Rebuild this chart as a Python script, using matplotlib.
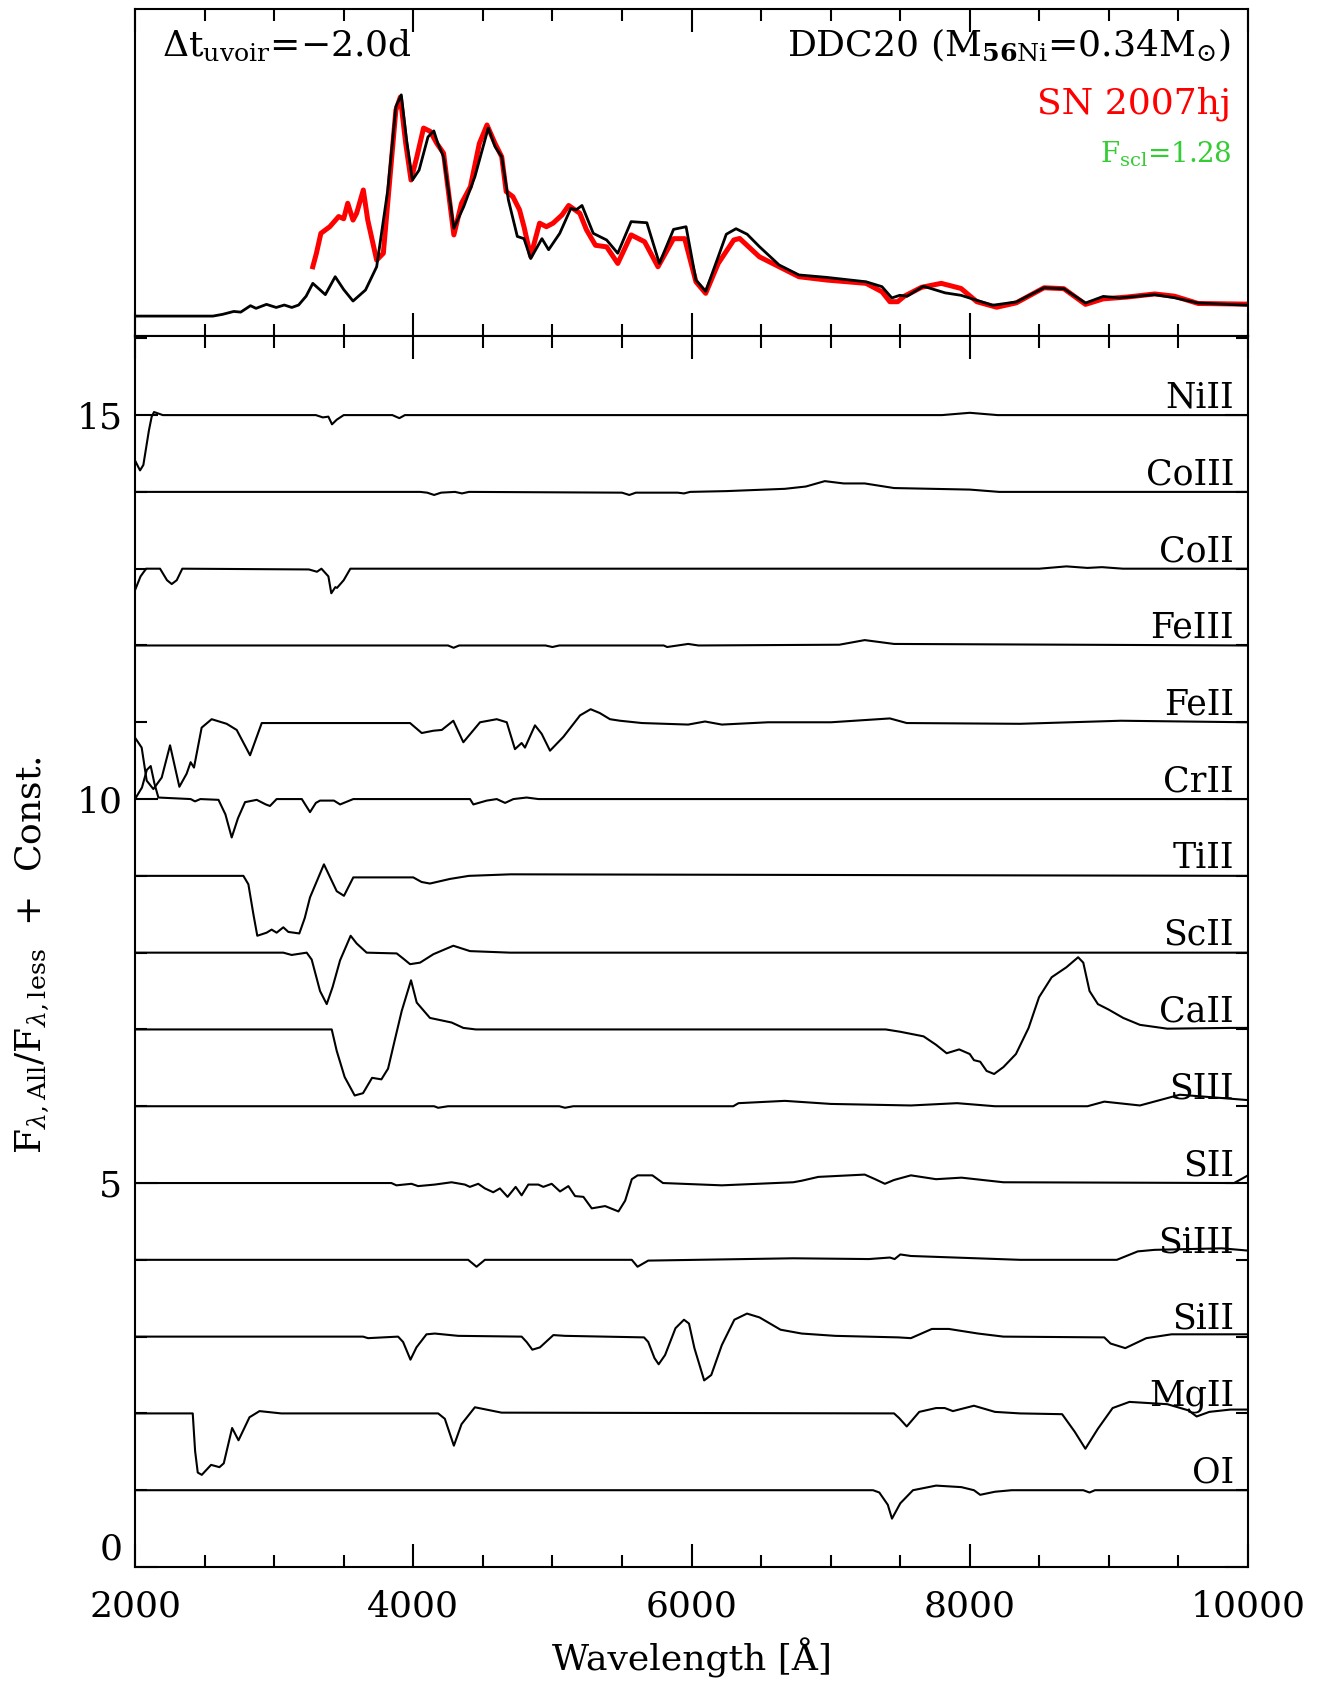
import matplotlib
matplotlib.use("Agg")
import matplotlib.pyplot as plt
from matplotlib.ticker import MultipleLocator

plt.rcParams['font.family'] = ['DejaVu Serif']
plt.rcParams['mathtext.fontset'] = 'dejavuserif'

# ---------------- top panel data ----------------
model_wl = [2000, 2560, 2630, 2710, 2760, 2830, 2870, 2945, 3015, 3073, 3127, 3176, 3230, 3278, 3368,
            3439, 3500, 3567, 3657, 3737, 3817, 3875, 3914, 3952, 3994, 4042, 4106, 4148, 4177, 4218,
            4292, 4363, 4443, 4539, 4588, 4636, 4684, 4748, 4796, 4844, 4925, 4973, 5053, 5133, 5170,
            5213, 5294, 5390, 5470, 5566, 5679, 5769, 5871, 5961, 6032, 6102, 6192, 6250, 6320, 6400,
            6488, 6630, 6772, 6971, 7255, 7369, 7440, 7497, 7550, 7667, 7823, 7937, 8164, 8335, 8534,
            8676, 8832, 8960, 9073, 9329, 9471, 9642, 10000]
model_flux = [0, 0, .008, .021, .018, .047, .035, .053, .039, .05, .039, .05, .09, .148, .097,
              .178, .12, .068, .118, .223, .57, .947, 1.0, .796, .615, .66, .81, .837, .78, .72,
              .397, .495, .63, .85, .766, .72, .525, .36, .35, .26, .35, .30, .374, .487, .48,
              .50, .374, .344, .284, .427, .422, .238, .392, .404, .163, .112, .268, .37, .395, .37,
              .314, .231, .186, .175, .155, .133, .082, .094, .09, .135, .105, .094, .049, .064, .128,
              .124, .059, .089, .082, .097, .083, .059, .049]

obs_wl = [3278, 3304, 3336, 3400, 3464, 3500, 3529, 3567, 3593, 3641, 3673, 3737, 3785, 3833, 3875,
          3907, 3946, 3984, 4026, 4074, 4122, 4170, 4218, 4292, 4347, 4411, 4475, 4530, 4588, 4636,
          4668, 4716, 4764, 4796, 4844, 4908, 4957, 5005, 5069, 5117, 5197, 5245, 5310, 5390, 5470,
          5566, 5663, 5759, 5871, 5951, 6032, 6102, 6192, 6304, 6346, 6488, 6630, 6772, 6971, 7255,
          7369, 7426, 7482, 7530, 7653, 7795, 7937, 8051, 8193, 8335, 8534, 8676, 8832, 8960, 9130,
          9329, 9471, 9642, 10000]
obs_flux = [.223, .284, .374, .404, .45, .44, .51, .434, .465, .57, .434, .253, .284, .63, .93,
            .99, .78, .615, .72, .85, .835, .78, .736, .367, .51, .585, .78, .864, .78, .72,
            .563, .54, .48, .404, .27, .42, .404, .42, .457, .50, .465, .39, .32, .313, .238,
            .367, .336, .223, .35, .35, .155, .103, .238, .344, .351, .268, .223, .178, .163, .148,
            .11, .065, .065, .09, .13, .148, .125, .065, .04, .06, .128, .124, .053, .078, .086,
            .1, .09, .057, .054]

# ---------------- lower panel data: F_all/F_less ratios ----------------
ions = ['NiII', 'CoIII', 'CoII', 'FeIII', 'FeII', 'CrII', 'TiII', 'ScII', 'CaII',
        'SIII', 'SII', 'SiIII', 'SiII', 'MgII', 'OI']
consts = [14, 13, 12, 11, 10, 9, 8, 7, 6, 5, 4, 3, 2, 1, 0]

NiII_wl = [2000, 2036, 2060, 2100, 2120, 2137, 2200, 3300, 3350, 3390, 3416, 3450, 3500, 3850, 3900,
           3940, 7800, 8000, 8200, 10000]
NiII_r = [0.41, 0.28, 0.35, 0.80, 0.98, 1.04, 1.0, 1.0, 0.97, 0.98, 0.88, 0.94, 1.0, 1.0, 0.96,
          1.0, 1.0, 1.03, 1.0, 1.0]

CoIII_wl = [2000, 4050, 4100, 4150, 4200, 4300, 4350, 4400, 5500, 5553, 5600, 5900, 5946, 5990,
            6248, 6671, 6822, 6958, 7094, 7245, 7456, 8000, 8211, 10000]
CoIII_r = [1, 1, .99, .96, .99, 1.0, .98, 1.0, .99, .96, .99, .99, .98, 1.0,
           1.01, 1.04, 1.07, 1.14, 1.11, 1.11, 1.05, 1.03, 1.0, 1.0]

CoII_wl = [2000, 2040, 2080, 2180, 2230, 2264, 2300, 2340, 3250, 3308, 3340, 3390, 3411, 3440,
           3452, 3500, 3548, 8500, 8695, 8846, 8950, 9100, 10000]
CoII_r = [.72, .9, 1.0, 1.0, .85, .8, .85, 1.0, .99, .96, 1.0, .9, .68, .76,
          .75, .85, 1.0, 1.0, 1.03, 1.01, 1.02, 1.0, 1.0]

FeIII_wl = [2000, 4250, 4290, 4330, 4950, 5000, 5050, 5800, 5825, 5976, 6050, 7063, 7245, 7456, 10000]
FeIII_r = [1, 1, .97, 1, 1, .98, 1, 1, .98, 1.02, 1, 1.01, 1.07, 1.02, 1]

FeII_wl = [2000, 2048, 2084, 2132, 2192, 2252, 2319, 2371, 2400, 2424, 2479, 2551, 2659, 2731,
           2827, 2911, 3977, 4061, 4145, 4205, 4288, 4360, 4480, 4600, 4672, 4731, 4779, 4803,
           4875, 4923, 4983, 5079, 5199, 5275, 5341, 5414, 5486, 5644, 5976, 6097, 6218, 6550,
           7003, 7426, 7547, 8362, 9087, 10000]
FeII_r = [.80, .67, .24, .13, .28, .70, .16, .33, .48, .41, .93, 1.04, .98, .90,
          .57, .99, .99, .86, .89, .90, 1.02, .74, 1.0, 1.04, 1.0, .65, .73, .67,
          .96, .85, .63, .81, 1.09, 1.17, 1.12, 1.04, 1.02, .99, .97, 1.01, .97, 1.0,
          1.0, 1.05, .99, .98, 1.02, 1.0]

CrII_wl = [2000, 2050, 2085, 2113, 2140, 2168, 2400, 2431, 2470, 2600, 2650, 2695, 2740, 2791,
           2875, 2940, 2970, 3018, 3199, 3258, 3300, 3330, 3430, 3474, 3569, 4408, 4432, 4528,
           4600, 4660, 4720, 4815, 4900, 10000]
CrII_r = [1.0, 1.15, 1.38, 1.43, 1.2, 1.02, 1.0, .97, 1.0, .99, .8, .5, .75, .96,
          .99, .93, .91, 1.0, 1.0, .83, .95, .98, .98, .93, 1.0, 1.0, .93, .98,
          1.0, .95, 1.0, 1.02, 1.0, 1.0]

TiII_wl = [2000, 2779, 2815, 2851, 2879, 2946, 2982, 3018, 3066, 3102, 3181, 3220, 3258, 3358,
           3450, 3502, 3569, 4000, 4060, 4120, 4264, 4400, 4700, 10000]
TiII_r = [1, 1, .89, .5, .22, .26, .30, .26, .33, .27, .25, .45, .72, 1.15,
          .80, .74, .98, .98, .92, .90, .96, 1.0, 1.02, 1.0]

ScII_wl = [2000, 3066, 3126, 3234, 3270, 3330, 3378, 3420, 3474, 3550, 3593, 3665, 3881, 3930,
           3977, 4049, 4145, 4288, 4408, 4696, 10000]
ScII_r = [1, 1, .97, 1, .91, .5, .33, .55, .9, 1.22, 1.12, 1.0, .99, .92,
          .85, .87, .98, 1.09, 1.02, 1.0, 1.0]

CaII_wl = [2000, 3414, 3450, 3507, 3579, 3639, 3704, 3771, 3819, 3867, 3917, 3984, 4025, 4120,
           4276, 4360, 4450, 7396, 7500, 7668, 7758, 7834, 7924, 8000, 8030, 8075, 8121, 8175,
           8242, 8332, 8423, 8498, 8589, 8695, 8779, 8816, 8861, 8921, 8997, 9103, 9223, 9420,
           9873, 10000]
CaII_r = [1, 1, .72, .38, .14, .17, .37, .35, .49, .86, 1.24, 1.64, 1.35, 1.15,
          1.09, 1.02, 1.0, 1.0, .97, .91, .80, .69, .74, .68, .6, .58, .46, .42,
          .51, .68, 1.02, 1.42, 1.68, 1.81, 1.94, 1.87, 1.5, 1.33, 1.26, 1.15, 1.06, 1.01,
          1.02, 1.02]

SIII_wl = [2000, 4150, 4179, 4250, 5050, 5091, 5150, 6300, 6338, 6671, 7003, 7577, 7909, 8181,
           8846, 8967, 9223, 9510, 10000]
SIII_r = [1, 1, .98, 1, 1, .98, 1, 1, 1.04, 1.07, 1.03, 1.01, 1.04, 1.0,
          1.0, 1.06, 1.01, 1.15, 1.08]

SII_wl = [2000, 3843, 3879, 3987, 4035, 4155, 4275, 4371, 4407, 4467, 4515, 4575, 4623, 4678,
          4736, 4779, 4827, 4899, 4935, 4995, 5055, 5115, 5163, 5223, 5283, 5379, 5475, 5523,
          5571, 5613, 5719, 5795, 6218, 6731, 6792, 6912, 7245, 7320, 7390, 7456, 7577, 7758,
          7940, 8242, 9900, 10000]
SII_r = [1, 1, .97, .99, .96, .98, 1.01, .98, .95, .99, .93, .88, .93, .82,
         .95, .84, .98, .98, .95, .99, .89, .96, .83, .82, .67, .70, .63, .77,
         1.05, 1.1, 1.1, 1.0, .97, 1.01, 1.03, 1.08, 1.11, 1.05, .99, 1.04, 1.1, 1.05,
         1.07, 1.01, 1.0, 1.1]

SiIII_wl = [2000, 4395, 4455, 4515, 5571, 5612, 5689, 6731, 7275, 7426, 7460, 7501, 7577, 8362,
            9057, 9208, 9329, 9812, 10000]
SiIII_r = [1, 1, .91, 1, 1, .91, .99, 1.02, 1.01, 1.03, 1.01, 1.07, 1.05, 1.0,
           1.0, 1.11, 1.13, 1.15, 1.12]

SiII_wl = [2000, 3639, 3675, 3891, 3927, 3980, 4023, 4095, 4155, 4323, 4779, 4815, 4856, 4911,
           5007, 5091, 5659, 5689, 5734, 5764, 5810, 5885, 5946, 5982, 6021, 6091, 6142, 6218,
           6308, 6399, 6489, 6640, 6792, 7033, 7486, 7577, 7728, 7849, 8060, 8242, 8967, 9012,
           9118, 9269, 9450, 10000]
SiII_r = [1, 1, .98, 1.0, .93, .7, .86, 1.03, 1.04, 1.01, 1.0, .93, .83, .86,
          1.02, 1.01, .99, .93, .72, .64, .76, 1.11, 1.22, 1.17, .85, .43, .5, .89,
          1.22, 1.3, 1.25, 1.09, 1.04, 1.01, .99, .98, 1.1, 1.1, 1.04, 1.0, .99, .91,
          .85, .98, 1.03, 1.03]

MgII_wl = [2000, 2415, 2432, 2451, 2480, 2547, 2607, 2638, 2698, 2744, 2823, 2895, 3051, 4179,
           4227, 4292, 4347, 4443, 4635, 7456, 7492, 7547, 7637, 7758, 7820, 7879, 8030, 8181,
           8362, 8664, 8755, 8831, 8921, 9027, 9148, 9420, 9571, 9631, 9722, 9873, 10000]
MgII_r = [1, 1, .51, .23, .2, .33, .30, .35, .81, .65, .95, 1.03, 1.0, 1.0,
          .93, .58, .86, 1.08, 1.01, 1.0, .94, .83, 1.02, 1.07, 1.07, 1.03, 1.10, 1.02,
          1.0, .99, .76, .54, .80, 1.07, 1.15, 1.12, 1.04, .96, 1.02, 1.05, 1.05]

OI_wl = [2000, 7305, 7350, 7411, 7441, 7501, 7592, 7758, 7940, 8030, 8075, 8181, 8302, 8816,
         8861, 8900, 10000]
OI_r = [1, 1, .97, .81, .63, .83, 1.0, 1.06, 1.04, 1.0, .94, .98, 1.0, 1.0,
        .97, 1.0, 1.0]

ion_data = {
    'NiII': (NiII_wl, NiII_r), 'CoIII': (CoIII_wl, CoIII_r), 'CoII': (CoII_wl, CoII_r),
    'FeIII': (FeIII_wl, FeIII_r), 'FeII': (FeII_wl, FeII_r), 'CrII': (CrII_wl, CrII_r),
    'TiII': (TiII_wl, TiII_r), 'ScII': (ScII_wl, ScII_r), 'CaII': (CaII_wl, CaII_r),
    'SIII': (SIII_wl, SIII_r), 'SII': (SII_wl, SII_r), 'SiIII': (SiIII_wl, SiIII_r),
    'SiII': (SiII_wl, SiII_r), 'MgII': (MgII_wl, MgII_r), 'OI': (OI_wl, OI_r),
}

x_ticks = [2000, 4000, 6000, 8000, 10000]

# ---------------- figure ----------------
W, H = 1321, 1682
fig = plt.figure(figsize=(W / 100, H / 100), dpi=100)
left, right = 135, 1248
ax_top = fig.add_axes([left / W, 1 - 336 / H, (right - left) / W, (336 - 8.6) / H])
ax_bot = fig.add_axes([left / W, 1 - 1567 / H, (right - left) / W, (1567 - 336) / H])

lw_frame = 1.5
for ax in (ax_top, ax_bot):
    for s in ax.spines.values():
        s.set_linewidth(lw_frame)
    ax.set_xlim(2000, 10000)
    ax.xaxis.set_major_locator(MultipleLocator(2000))
    ax.xaxis.set_minor_locator(MultipleLocator(500))
    ax.tick_params(which='both', direction='in', top=True, bottom=True, width=1.5)
    ax.tick_params(which='major', length=16.5)
    ax.tick_params(which='minor', length=8.5)

# top panel
ax_top.plot(obs_wl, obs_flux, color='#ff0000', lw=3.6, solid_joinstyle='round', zorder=2)
ax_top.plot(model_wl, model_flux, color='black', lw=2.0, zorder=3)
ax_top.set_ylim(-0.09, 1.39)
ax_top.tick_params(axis='x', labelbottom=False)
ax_top.tick_params(axis='y', which='both', left=False, right=False, labelleft=False)

ax_top.text(0.024, 0.889, r'$\Delta$t$_{\rm uvoir}$=$-$2.0d', transform=ax_top.transAxes,
            ha='left', va='center', fontsize=26)
ax_top.text(0.985, 0.889, r'DDC20 (M$_{\mathbf{56}\rm Ni}$=0.34M$_{\odot}$)',
            transform=ax_top.transAxes, ha='right', va='center', fontsize=26)
ax_top.text(0.985, 0.709, 'SN 2007hj', transform=ax_top.transAxes, ha='right', va='center',
            fontsize=26, color='#ff0000')
ax_top.text(0.985, 0.555, r'F$_{\rm scl}$=1.28', transform=ax_top.transAxes, ha='right',
            va='center', fontsize=20, color='#33cc33')

# lower panel
for ion, c in zip(ions, consts):
    wl, r = ion_data[ion]
    ax_bot.plot(wl, [v + c for v in r], color='black', lw=1.5)
    ax_bot.text(9900, c + 1 + 0.1, ion, ha='right', va='baseline', fontsize=25)

ax_bot.set_ylim(0, 16.03)
ax_bot.yaxis.set_major_locator(MultipleLocator(5))
ax_bot.yaxis.set_minor_locator(MultipleLocator(1))
ax_bot.tick_params(axis='y', which='both', left=True, right=True, width=1.5)
ax_bot.tick_params(axis='y', which='major', length=16.5, pad=9, labelsize=26)
ax_bot.tick_params(axis='x', which='major', pad=16, labelsize=26)
ax_bot.set_xticks(x_ticks)
ax_bot.set_xticklabels([str(t) for t in x_ticks])
ax_bot.set_yticks([0, 5, 10, 15])
ax_bot.set_yticklabels(['0', '5', '10', '15'])
ax_bot.get_yticklabels()[0].set_va('bottom')

fig.text(691.5 / W, 1 - 1658 / H, 'Wavelength [Å]', ha='center', va='center', fontsize=26)
fig.text(32 / W, 1 - 955 / H, r'F$_{\lambda,\rm All}$/F$_{\lambda,\rm less}$  +  Const.',
         ha='center', va='center', rotation=90, fontsize=26)

fig.savefig('out.png', dpi=100)
